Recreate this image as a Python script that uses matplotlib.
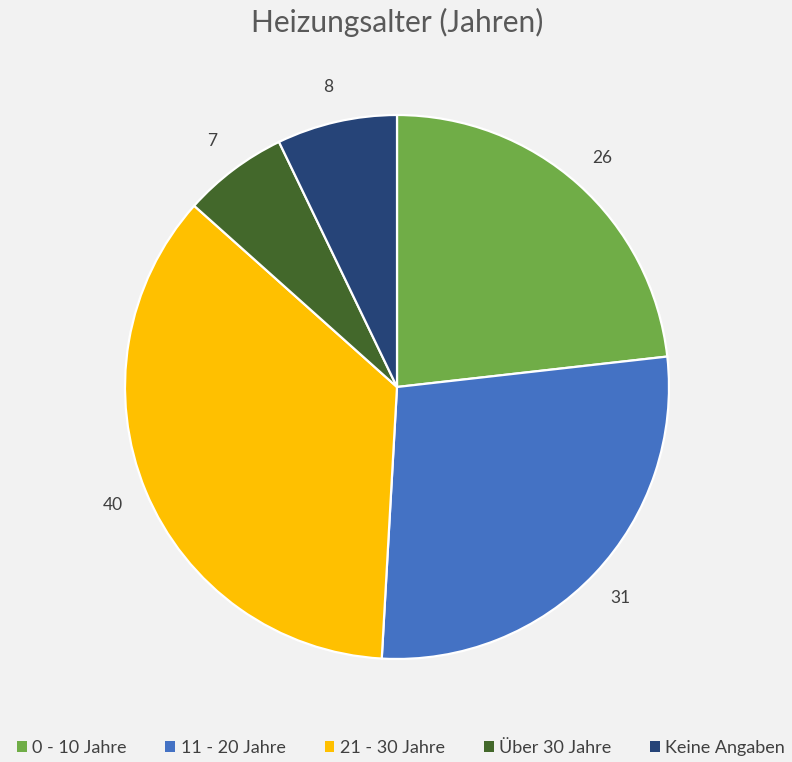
import matplotlib
matplotlib.use("Agg")
import matplotlib.pyplot as plt
from matplotlib.patches import Patch

categories = ["0 - 10 Jahre", "11 - 20 Jahre", "21 - 30 Jahre", "Über 30 Jahre", "Keine Angaben"]
values = [26, 31, 40, 7, 8]
colors = ["#70ad47", "#4472c4", "#ffc000", "#43682b", "#264478"]
title = "Heizungsalter (Jahren)"

plt.rcParams['font.family'] = ['Lato', 'DejaVu Sans']
W, H = 792, 762
fig = plt.figure(figsize=(W / 100, H / 100), dpi=100, facecolor="#f2f2f2")

cx, cy, r = 397, 387, 272
ax = fig.add_axes([(cx - r) / W, (H - cy - r) / H, 2 * r / W, 2 * r / H])
ax.set_facecolor("#f2f2f2")
wedges, texts = ax.pie(values, colors=colors, startangle=90, counterclock=False,
                       labels=[str(v) for v in values], labeldistance=1.13,
                       wedgeprops=dict(edgecolor="white", linewidth=1.6),
                       textprops=dict(color="#404040", fontsize=12.5))
for t in texts:
    t.set_ha("center")
    t.set_va("center")
ax.set_xlim(-1, 1)
ax.set_ylim(-1, 1)
ax.set_aspect("equal")
ax.axis("off")

fig.text(397 / W, 1 - 22 / H, title, ha="center", va="center", fontsize=21.5, color="#595959")

handles = [Patch(facecolor=c, edgecolor="none") for c in colors]
leg = fig.legend(handles, categories, loc="center", bbox_to_anchor=(401 / W, 1 - 748 / H),
                 ncol=5, frameon=False, fontsize=13, handlelength=0.55, handleheight=0.55,
                 handletextpad=0.3, columnspacing=2.15, labelcolor="#404040")

fig.savefig("out.png", dpi=100, facecolor=fig.get_facecolor())
